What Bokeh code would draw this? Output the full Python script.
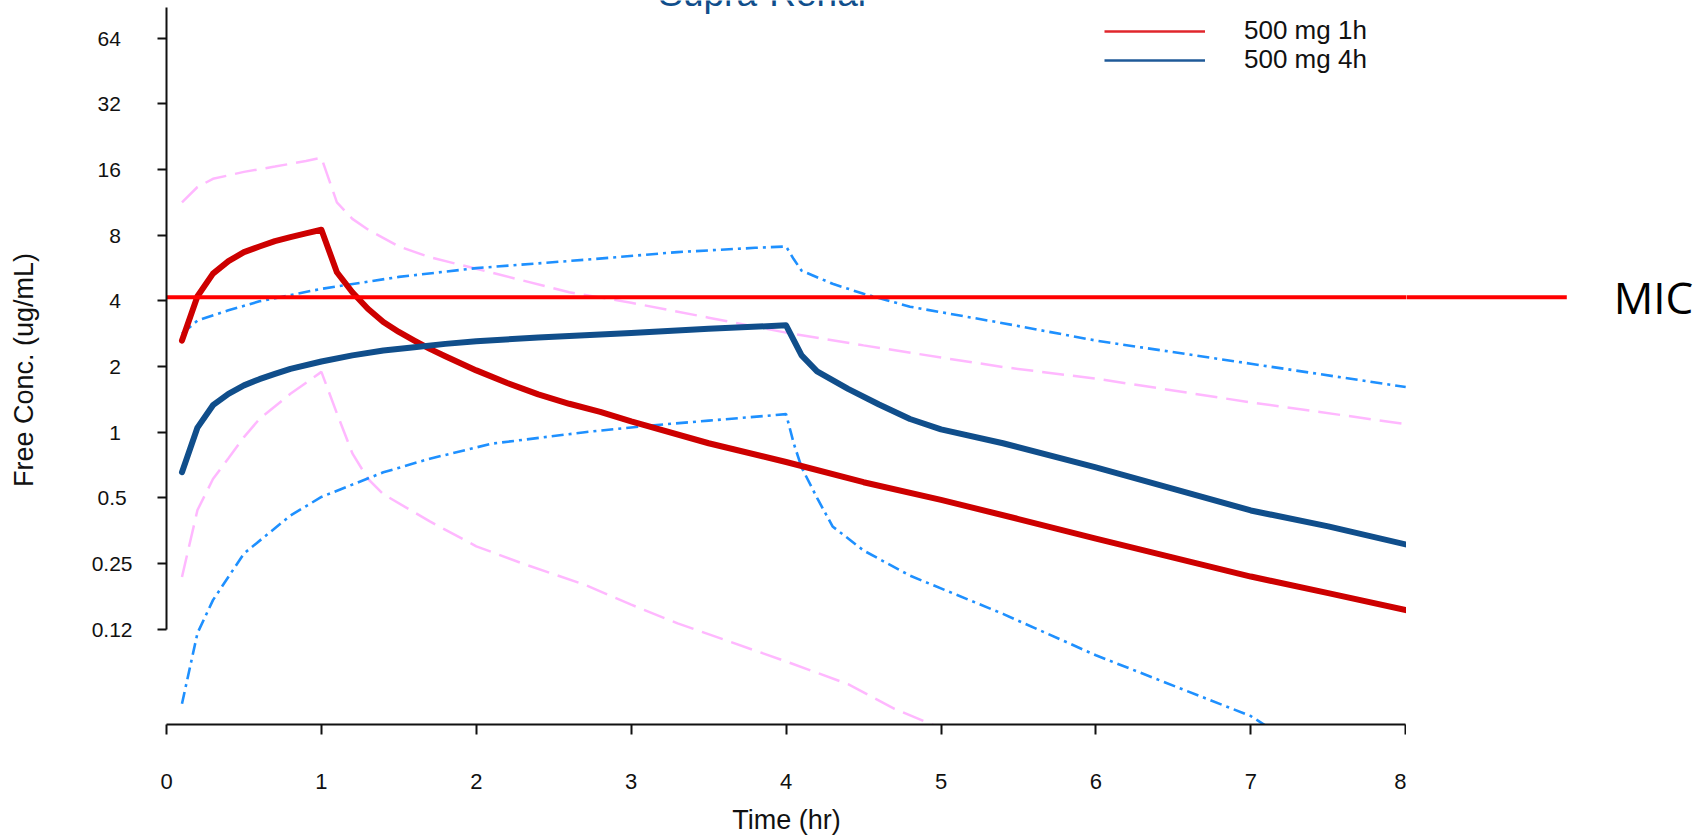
from bokeh.plotting import figure
from bokeh.models import Range1d, FixedTicker, Label, Legend, LegendItem
from bokeh.layouts import row
from bokeh.embed import file_html
from bokeh.resources import INLINE

# ---------------- data ----------------
# 500 mg infused over 1 h : median and 90% band
red_t = [0.1, 0.2, 0.3, 0.4, 0.5, 0.6, 0.7, 0.8, 0.9, 1.0, 1.1, 1.2, 1.3, 1.4, 1.5, 1.6, 1.7, 1.8,
         2.0, 2.2, 2.4, 2.6, 2.8, 3.0, 3.5, 4.0, 4.5, 5.0, 5.5, 6.0, 6.5, 7.0, 7.5, 8.0]
red_med = [2.63, 4.2, 5.33, 6.08, 6.69, 7.1, 7.51, 7.84, 8.15, 8.47, 5.41, 4.38, 3.68, 3.2, 2.88, 2.63, 2.41, 2.23,
           1.92, 1.68, 1.49, 1.35, 1.24, 1.12, 0.89, 0.73, 0.59, 0.49, 0.40, 0.325, 0.266, 0.218, 0.183, 0.153]

pink_hi_t = [0.1, 0.2, 0.3, 0.5, 0.7, 0.9, 1.0, 1.1, 1.2, 1.3, 1.5, 1.7, 2.0, 2.3, 2.6, 3.0, 3.5, 4.0, 4.5,
             5.0, 5.4, 6.0, 7.0, 8.0]
pink_hi = [11.3, 13.3, 14.5, 15.6, 16.5, 17.5, 18.1, 11.3, 9.5, 8.5, 7.1, 6.34, 5.61, 4.96, 4.38, 3.92, 3.35, 2.86, 2.5,
           2.2, 1.99, 1.76, 1.37, 1.09]

pink_lo_t = [0.1, 0.2, 0.3, 0.4, 0.5, 0.6, 0.8, 1.0, 1.1, 1.2, 1.3, 1.4, 1.7, 2.0, 2.3, 2.7, 3.0, 3.3, 4.0,
             4.4, 4.7, 5.0]
pink_lo = [0.217, 0.44, 0.61, 0.76, 0.95, 1.15, 1.5, 1.89, 1.22, 0.8, 0.612, 0.52, 0.39, 0.3, 0.25, 0.2, 0.162,
           0.133, 0.089, 0.07, 0.054, 0.044]

# 500 mg infused over 4 h : median and 90% band
blue_t = [0.1, 0.2, 0.3, 0.4, 0.5, 0.6, 0.7, 0.8, 1.0, 1.2, 1.4, 1.6, 1.8, 2.0, 2.4, 2.7, 3.0, 3.5, 4.0,
          4.1, 4.2, 4.4, 4.6, 4.8, 5.0, 5.4, 6.0, 6.5, 7.0, 7.5, 8.0]
blue_med = [0.656, 1.05, 1.33, 1.5, 1.64, 1.75, 1.85, 1.95, 2.11, 2.25, 2.37, 2.45, 2.54, 2.61, 2.72, 2.78, 2.85,
            2.98, 3.09, 2.25, 1.9, 1.58, 1.34, 1.15, 1.03, 0.89, 0.69, 0.55, 0.438, 0.37, 0.306]

dodger_hi_t = [0.1, 0.2, 0.4, 0.6, 1.0, 1.5, 2.0, 2.7, 3.3, 3.8, 4.0, 4.05, 4.1, 4.3, 4.5, 4.8, 5.4, 6.0, 7.0, 8.0]
dodger_hi = [2.83, 3.25, 3.62, 3.98, 4.54, 5.15, 5.65, 6.17, 6.69, 7.0, 7.1, 6.2, 5.5, 4.79, 4.31, 3.76, 3.16,
             2.63, 2.06, 1.61]

dodger_lo_t = [0.1, 0.2, 0.3, 0.5, 0.8, 1.0, 1.4, 1.7, 2.1, 2.7, 3.1, 3.5, 4.0, 4.05, 4.1, 4.2, 4.3, 4.5, 4.8,
               5.4, 6.0, 7.0, 7.1]
dodger_lo = [0.057, 0.12, 0.17, 0.278, 0.415, 0.505, 0.655, 0.756, 0.886, 1.0, 1.07, 1.13, 1.21, 0.886, 0.69,
             0.5, 0.37, 0.287, 0.22, 0.147, 0.095, 0.05, 0.045]

mic_t = [-0.04, 9.04]
mic_value = 4.15

x_ticks = [0, 1, 2, 3, 4, 5, 6, 7, 8]
y_ticks = [0.125, 0.25, 0.5, 1, 2, 4, 8, 16, 32, 64]
y_tick_labels = ["0.12", "0.25", "0.5", "1", "2", "4", "8", "16", "32", "64"]

series_labels = ["500 mg 1h", "500 mg 4h"]
title_text = "Supra-Renal"
x_title = "Time (hr)"
y_title = "Free Conc. (ug/mL)"
mic_text = "MIC"

# ---------------- styles ----------------
RED = "#cd0000"
NAVY = "#104e8b"
PINK = "#ffb8ff"
DODGER = "#1e90ff"
FONT = "Liberation Sans"
INK = "#111111"

PX_PER_HR = 154.9
MAIN_W = 1406          # main panel: left margin + 0..8 h, so the x title centres under the axis
SIDE_W = 1700 - MAIN_W  # strip on the right carrying the end of the MIC line and its label
x_split = (MAIN_W - 166) / PX_PER_HR
y_range = Range1d(0.04575, 95.2)

p = figure(width=MAIN_W, height=838, output_backend="svg", toolbar_location=None,
           x_range=Range1d(0, x_split), y_range=y_range, y_axis_type="log",
           min_border_left=166, min_border_right=0, min_border_top=0, min_border_bottom=114)
p.grid.visible = False
p.outline_line_color = None
p.background_fill_color = "white"
p.border_fill_color = "white"

xa = p.xaxis[0]
xa.ticker = FixedTicker(ticks=x_ticks)
xa.bounds = (0, 8)
xa.axis_line_width = 2
xa.axis_line_color = INK
xa.major_tick_line_width = 2
xa.major_tick_line_color = INK
xa.major_tick_out = 10
xa.major_tick_in = 0
xa.minor_tick_line_color = None
xa.major_label_text_font = FONT
xa.major_label_text_font_size = "22px"
xa.major_label_text_color = INK
xa.major_label_standoff = 39
xa.axis_label = x_title
xa.axis_label_text_font = FONT
xa.axis_label_text_font_size = "27px"
xa.axis_label_text_font_style = "normal"
xa.axis_label_text_color = INK
xa.axis_label_standoff = 13


def _w(s):
    return sum(0.278 if c == "." else 0.556 for c in s)


# right-aligned labels padded with no-break spaces so that they look centred
_wmax = max(_w(s) for s in y_tick_labels)
y_overrides = {v: s + "\u00a0" * int(round((_wmax - _w(s)) / 2 / 0.278)) for v, s in zip(y_ticks, y_tick_labels)}

ya = p.yaxis[0]
ya.ticker = FixedTicker(ticks=y_ticks)
ya.major_label_overrides = y_overrides
ya.bounds = (0.125, 88)
ya.axis_line_width = 2
ya.axis_line_color = INK
ya.major_tick_line_width = 2
ya.major_tick_line_color = INK
ya.major_tick_out = 9
ya.major_tick_in = 0
ya.minor_tick_line_color = None
ya.major_label_text_font = FONT
ya.major_label_text_font_size = "21px"
ya.major_label_text_color = INK
ya.major_label_standoff = 25
ya.axis_label = y_title + "\u00a0\u00a0"   # trailing no-break spaces nudge the centred title down a little
ya.axis_label_text_font = FONT
ya.axis_label_text_font_size = "27px"
ya.axis_label_text_font_style = "normal"
ya.axis_label_text_color = INK
ya.axis_label_standoff = 50

# bands
p.line(pink_hi_t, pink_hi, line_color=PINK, line_width=2.5, line_dash="22 9")
p.line(pink_lo_t, pink_lo, line_color=PINK, line_width=2.5, line_dash="22 9")
p.line(dodger_hi_t, dodger_hi, line_color=DODGER, line_width=2.6, line_dash="12 5 3 5")
p.line(dodger_lo_t, dodger_lo, line_color=DODGER, line_width=2.6, line_dash="12 5 3 5")

# medians
p.line(red_t, red_med, line_color=RED, line_width=6, line_cap="round", line_join="round")
p.line(blue_t, blue_med, line_color=NAVY, line_width=6, line_cap="round", line_join="round")

# MIC line (first part)
p.line(mic_t, [mic_value] * len(mic_t), line_color="#ff0000", line_width=4)

# legend (thin sample lines; renderers hidden, used only for the key) - one box per row
l1 = p.line(red_t, red_med, line_color="#e0262c", line_width=2.5, visible=False)
l2 = p.line(blue_t, blue_med, line_color="#1f5a98", line_width=2.5, visible=False)
for rend, lab, loc in [(l1, series_labels[0], (938, 678)), (l2, series_labels[1], (938, 649))]:
    p.add_layout(Legend(items=[LegendItem(label=lab, renderers=[rend])],
                        location=loc, glyph_width=101, glyph_height=20, label_standoff=39,
                        spacing=0, padding=0, margin=0, border_line_color=None, background_fill_alpha=0,
                        label_text_font=FONT, label_text_font_size="26px", label_text_color=INK,
                        label_height=20))

# main title (cut at the top edge, as in the reference)
p.add_layout(Label(x=3.845, y=102.0, text=title_text, text_align="center", text_baseline="alphabetic",
                   text_font=FONT, text_font_size="37px", text_color=NAVY))

# right strip: continuation of the MIC line and its label, same scales
p2 = figure(width=SIDE_W, height=838, output_backend="svg", toolbar_location=None,
            x_range=Range1d(x_split, x_split + SIDE_W / PX_PER_HR), y_range=y_range, y_axis_type="log",
            x_axis_location=None, y_axis_location=None,
            min_border_left=0, min_border_right=0, min_border_top=0, min_border_bottom=114)
p2.grid.visible = False
p2.outline_line_color = None
p2.background_fill_color = "white"
p2.border_fill_color = "white"
p2.line(mic_t, [mic_value] * len(mic_t), line_color="#ff0000", line_width=4)
p2.add_layout(Label(x=9.343, y=4.18, text=mic_text, text_align="left", text_baseline="alphabetic",
                    text_font="Open Sans", text_font_size="44px", text_color="black"))

layout = row(p, p2, spacing=0)
open("out.html", "w").write(file_html(layout, INLINE))
